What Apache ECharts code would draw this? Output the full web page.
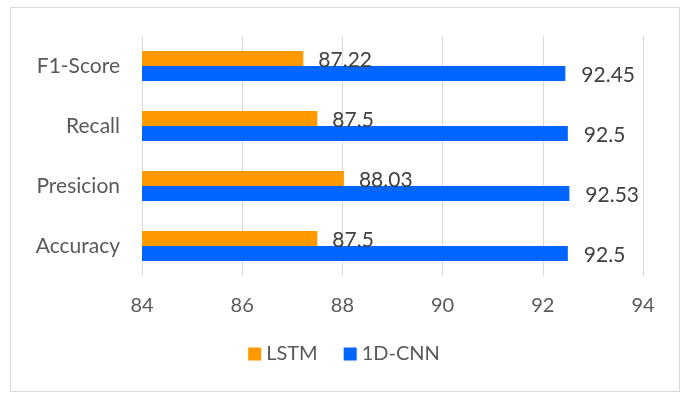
<!DOCTYPE html>
<html><head><meta charset="utf-8">
<script src="https://cdn.jsdelivr.net/npm/echarts@6/dist/echarts.min.js"></script>
<style>html,body{margin:0;padding:0;background:#fff}#c{width:688px;height:396px}
#frame{position:absolute;left:10px;top:7px;width:670px;height:385px;border:1px solid #d9d9d9;box-sizing:border-box;pointer-events:none}</style>
</head><body><div id="c"></div><div id="frame"></div>
<script>
const categories = ['Accuracy', 'Presicion', 'Recall', 'F1-Score'];
const lstm = [87.5, 88.03, 87.5, 87.22];
const cnn = [92.5, 92.53, 92.5, 92.45];
const seriesNames = ['LSTM', '1D-CNN'];
const xTicks = [84, 86, 88, 90, 92, 94];

const font = 'Lato, "Open Sans", sans-serif';
const chart = echarts.init(document.getElementById('c'));
chart.setOption({
  animation: false,
  textStyle: { fontFamily: font },
  legend: {
    data: seriesNames, bottom: 27, left: 'center',
    icon: 'rect', itemWidth: 13, itemHeight: 13, itemGap: 26,
    textStyle: { fontSize: 20, color: '#595959', fontFamily: font }
  },
  grid: { left: 142, right: 45, top: 36, bottom: 120 },
  xAxis: {
    type: 'value', min: xTicks[0], max: xTicks[xTicks.length - 1], interval: 2,
    axisLine: { show: false }, axisTick: { show: false },
    splitLine: { lineStyle: { color: '#d9d9d9' } },
    axisLabel: { fontSize: 20, color: '#595959', margin: 20, fontFamily: font }
  },
  yAxis: {
    type: 'category', data: categories,
    axisLine: { show: false }, axisTick: { show: false },
    axisLabel: { fontSize: 21, color: '#595959', margin: 22, fontFamily: font }
  },
  series: [
    { name: seriesNames[0], type: 'bar', data: lstm, itemStyle: { color: '#FF9900' },
      barGap: '0%', barCategoryGap: '50%',
      label: { show: true, position: 'right', distance: 15, offset: [0, 2], fontSize: 21, color: '#404040', fontFamily: font } },
    { name: seriesNames[1], type: 'bar', data: cnn, itemStyle: { color: '#0066FF' },
      barGap: '0%', barCategoryGap: '50%',
      label: { show: true, position: 'right', distance: 16, offset: [0, 2], fontSize: 21, color: '#404040', fontFamily: font } }
  ]
});
</script></body></html>
